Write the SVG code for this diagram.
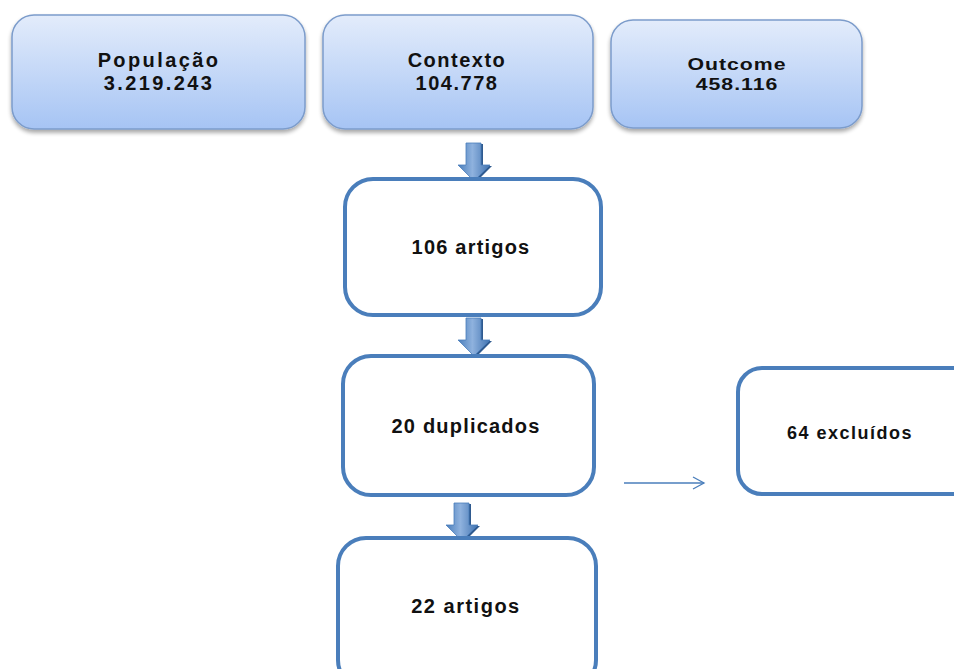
<svg xmlns="http://www.w3.org/2000/svg" width="954" height="669" viewBox="0 0 954 669">
<defs>
<linearGradient id="topfill" x1="0" y1="0" x2="0" y2="1">
<stop offset="0" stop-color="#e3ecfb"/>
<stop offset="1" stop-color="#a6c4f4"/>
</linearGradient>
<linearGradient id="arrfill" x1="0" y1="0" x2="1" y2="0">
<stop offset="0" stop-color="#4a7ebb"/>
<stop offset="0.45" stop-color="#8fb2de"/>
<stop offset="1" stop-color="#3f72b0"/>
</linearGradient>
<filter id="sh" x="-10%" y="-10%" width="120%" height="130%">
<feGaussianBlur in="SourceAlpha" stdDeviation="2"/>
<feOffset dx="0" dy="3" result="b"/>
<feComponentTransfer><feFuncA type="linear" slope="0.35"/></feComponentTransfer>
<feMerge><feMergeNode/><feMergeNode in="SourceGraphic"/></feMerge>
</filter>
<marker id="open" markerWidth="14" markerHeight="14" refX="12" refY="7" orient="auto" markerUnits="userSpaceOnUse">
<path d="M1,1 L12,7 L1,13" fill="none" stroke="#4a7ebb" stroke-width="1.3"/>
</marker>
<g id="blockArrow">
<path d="M-7,0 H8 V22 H17 L1,38 L-15,22 H-7 Z" fill="#2f5a8f" transform="translate(2,1)"/>
<path d="M-7,0 H8 V22 H17 L1,38 L-15,22 H-7 Z" fill="url(#arrfill)" stroke="#4a7ebb" stroke-width="0.8"/>
</g>
</defs>
<style>
.top{fill:url(#topfill);stroke:#7c9ccb;stroke-width:1.5;filter:url(#sh)}
.flow{fill:#ffffff;stroke:#4a7ebb;stroke-width:4}
.tt{font-family:"Liberation Sans",Arial,sans-serif;font-weight:bold;fill:#111;text-anchor:middle;letter-spacing:2.4px}
.ft{font-family:"Liberation Sans",Arial,sans-serif;font-weight:bold;fill:#111;text-anchor:middle;font-size:20px;letter-spacing:1.2px}
</style>
<rect width="954" height="669" fill="#ffffff"/>

<g id="connectors">
<use href="#blockArrow" x="473" y="143"/>
<use href="#blockArrow" x="473" y="318"/>
<use href="#blockArrow" x="461" y="503"/>
<line x1="624" y1="483" x2="704" y2="483" stroke="#4a7ebb" stroke-width="1.3" marker-end="url(#open)"/>
</g>

<g id="populacao">
<rect class="top" x="12" y="15" width="293" height="114" rx="22"/>
<text class="tt" x="159" y="67" font-size="20">População</text>
<text class="tt" x="159" y="90" font-size="20">3.219.243</text>
</g>
<g id="contexto">
<rect class="top" x="323" y="15" width="270" height="114" rx="22"/>
<text class="tt" x="457" y="67" font-size="20" style="letter-spacing:1.5px">Contexto</text>
<text class="tt" x="457" y="90" font-size="20" style="letter-spacing:1.5px">104.778</text>
</g>
<g id="outcome">
<rect class="top" x="611" y="20" width="251" height="108" rx="22"/>
<text class="tt" transform="translate(737,70) scale(1.25,1)" font-size="17" style="letter-spacing:0.8px">Outcome</text>
<text class="tt" transform="translate(737,90) scale(1.25,1)" font-size="17" style="letter-spacing:0.8px">458.116</text>
</g>

<g id="artigos106">
<rect class="flow" x="345" y="179" width="256" height="136" rx="28"/>
<text class="ft" x="471" y="254">106 artigos</text>
</g>
<g id="duplicados">
<rect class="flow" x="343" y="356" width="251" height="139" rx="28"/>
<text class="ft" x="466" y="433">20 duplicados</text>
</g>
<g id="artigos22">
<rect class="flow" x="338" y="538" width="258" height="150" rx="28"/>
<text class="ft" x="466" y="613" style="letter-spacing:1.5px">22 artigos</text>
</g>
<g id="excluidos">
<rect class="flow" x="738" y="368" width="240" height="126" rx="24"/>
<text class="ft" x="850" y="439" style="font-size:18px;letter-spacing:1.5px">64 excluídos</text>
</g>
</svg>
